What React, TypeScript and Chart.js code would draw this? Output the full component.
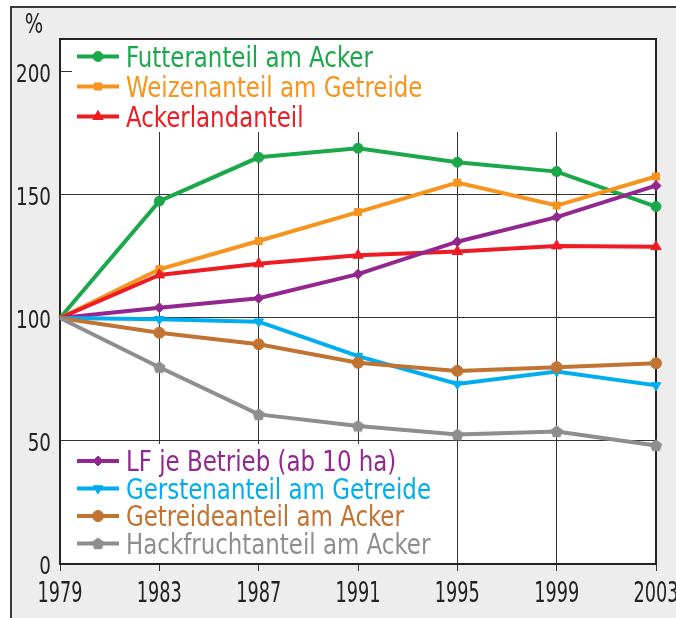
import React, { useEffect, useRef } from "react";
import { Chart, registerables } from "chart.js";
import { drawPoint } from "chart.js/helpers";

Chart.register(...registerables);

const years = ["1979", "1983", "1987", "1991", "1995", "1999", "2003"];
const futterValues = [100, 147.5, 165.3, 169, 163.3, 159.5, 145.3];
const weizenValues = [100, 119.8, 131.3, 143, 155, 145.7, 157.5];
const ackerlandValues = [100, 117.5, 122, 125.5, 127, 129.3, 129];
const lfValues = [100, 104.2, 108, 117.8, 131, 141, 153.8];
const gerstenValues = [100, 99.5, 98.5, 84.5, 73.2, 78.2, 72.6];
const getreideValues = [100, 94, 89.3, 81.8, 78.5, 80, 81.6];
const hackValues = [100, 80, 60.8, 56.1, 52.6, 53.9, 48.2];
const yTicks = [0, 50, 100, 150, 200];

const FONT = '"DejaVu Sans Condensed", "DejaVu Sans", sans-serif';

function makePentagon(color: string, r: number) {
  const c = document.createElement("canvas");
  const s = Math.ceil(r * 2 + 2);
  c.width = s;
  c.height = s;
  const g = c.getContext("2d")!;
  g.fillStyle = color;
  g.beginPath();
  const cx = s / 2, cy = s / 2 + 0.5;
  for (let i = 0; i < 5; i++) {
    const a = -Math.PI / 2 + (i * 2 * Math.PI) / 5;
    const px = cx + r * Math.cos(a);
    const py = cy + r * Math.sin(a);
    if (i === 0) g.moveTo(px, py); else g.lineTo(px, py);
  }
  g.closePath();
  g.fill();
  return c;
}

function squeezeText(ctx: CanvasRenderingContext2D, text: string, x: number, y: number, sx: number, align: "left" | "right" | "center", halo?: string) {
  ctx.save();
  ctx.translate(x, y);
  ctx.scale(sx, 1);
  ctx.textAlign = align;
  ctx.textBaseline = "alphabetic";
  if (halo) {
    ctx.lineJoin = "round";
    ctx.lineWidth = 4;
    ctx.strokeStyle = halo;
    ctx.strokeText(text, 0, 0);
  }
  ctx.fillText(text, 0, 0);
  ctx.restore();
}

export default function App() {
  const ref = useRef<HTMLCanvasElement | null>(null);

  useEffect(() => {
    const canvas = ref.current!;
    const pent = makePentagon("#8e8e90", 6.5);

    const mk = (label: string, data: number[], color: string, pointStyle: any, radius: number, rotation = 0) => ({
      label,
      data,
      borderColor: color,
      backgroundColor: color,
      pointBackgroundColor: color,
      pointBorderColor: color,
      borderWidth: 4,
      pointStyle,
      markerRadius: radius,
      pointRadius: (c: any) => (c.dataIndex === 0 ? 0 : radius),
      pointRotation: rotation,
      pointBorderWidth: 1,
      tension: 0,
    });

    const datasets: any[] = [
      mk("Hackfruchtanteil am Acker", hackValues, "#8e8e90", pent, 6),
      mk("Getreideanteil am Acker", getreideValues, "#c17332", "circle", 5.5),
      mk("Gerstenanteil am Getreide", gerstenValues, "#00adee", "triangle", 5.5, 180),
      mk("LF je Betrieb (ab 10 ha)", lfValues, "#93278f", "rectRot", 5),
      mk("Ackerlandanteil", ackerlandValues, "#ed1c24", "triangle", 6),
      mk("Weizenanteil am Getreide", weizenValues, "#f7941d", "rect", 5),
      mk("Futteranteil am Acker", futterValues, "#1ba84b", "circle", 5),
    ];

    const upperOrder = ["Futteranteil am Acker", "Weizenanteil am Getreide", "Ackerlandanteil"];
    const lowerOrder = ["LF je Betrieb (ab 10 ha)", "Gerstenanteil am Getreide", "Getreideanteil am Acker", "Hackfruchtanteil am Acker"];
    const upperY = [56.5, 86.5, 116.5];
    const lowerY = [461, 488.5, 516, 543.5];

    const bgPlugin = {
      id: "bg",
      beforeDraw(chart: any) {
        const ctx = chart.ctx;
        const { left, top, right, bottom } = chart.chartArea;
        ctx.save();
        ctx.fillStyle = "#ffffff";
        ctx.fillRect(0, 0, chart.width, chart.height);
        ctx.fillStyle = "#ededed";
        ctx.fillRect(11, 7, chart.width - 11, chart.height - 7);
        ctx.strokeStyle = "#3a3a3a";
        ctx.lineWidth = 2;
        ctx.beginPath();
        ctx.moveTo(11, chart.height);
        ctx.lineTo(11, 7);
        ctx.lineTo(chart.width, 7);
        ctx.stroke();
        ctx.fillStyle = "#ffffff";
        ctx.fillRect(left, top, right - left, bottom - top);
        ctx.restore();
      },
      beforeDatasetsDraw(chart: any) {
        const ctx = chart.ctx;
        const { left, top, right, bottom } = chart.chartArea;
        ctx.save();
        ctx.fillStyle = "#ffffff";
        ctx.fillRect(72, top, right - 72, 132 - top);
        ctx.fillRect(left + 2, 444, 445 - left - 2, bottom - 1 - 444);
        ctx.strokeStyle = "#222";
        ctx.lineWidth = 2;
        ctx.beginPath();
        ctx.moveTo(left, top);
        ctx.lineTo(right, top);
        ctx.lineTo(right, bottom);
        ctx.stroke();
        ctx.restore();
      },
      afterDraw(chart: any) {
        const ctx = chart.ctx;
        ctx.save();

        // "%" unit label
        ctx.fillStyle = "#222";
        ctx.font = `27px ${FONT}`;
        squeezeText(ctx, "%", 34, 33, 0.8, "center");

        // x tick labels
        const xs = chart.scales.x;
        ctx.font = `29px ${FONT}`;
        const sxX = 45 / ctx.measureText("1999").width;
        xs.ticks.forEach((t: any, i: number) => {
          const px = xs.getPixelForTick(i);
          squeezeText(ctx, String(xs.getLabelForValue(t.value)), px, 602, sxX, "center");
        });

        // y tick labels
        const ys = chart.scales.y;
        ctx.font = `25px ${FONT}`;
        const sxY = 35 / ctx.measureText("200").width;
        ys.ticks.forEach((t: any) => {
          const py = ys.getPixelForValue(t.value);
          squeezeText(ctx, String(t.value), 51, py + 10, sxY, "right");
        });

        // legends
        ctx.font = `28px ${FONT}`;
        const sxL = 305 / ctx.measureText("Gerstenanteil am Getreide").width;
        const drawEntry = (label: string, y: number) => {
          const ds: any = chart.data.datasets.find((d: any) => d.label === label);
          const color = ds.borderColor;
          ctx.strokeStyle = color;
          ctx.lineWidth = 4;
          ctx.beginPath();
          ctx.moveTo(77, y);
          ctx.lineTo(119, y);
          ctx.stroke();
          ctx.fillStyle = color;
          ctx.strokeStyle = color;
          ctx.lineWidth = 1;
          drawPoint(ctx, { pointStyle: ds.pointStyle, rotation: ds.pointRotation, radius: ds.markerRadius, borderWidth: 1 } as any, 98, y);
          ctx.font = `28px ${FONT}`;
          ctx.fillStyle = color;
          squeezeText(ctx, label, 126, y + 10, sxL, "left", "#ffffff");
        };
        upperOrder.forEach((l, i) => drawEntry(l, upperY[i]));
        lowerOrder.forEach((l, i) => drawEntry(l, lowerY[i]));
        ctx.restore();
      },
    };

    const chart = new Chart(canvas, {
      type: "line",
      data: { labels: years, datasets },
      options: {
        responsive: false,
        animation: false,
        devicePixelRatio: 1,
        layout: { padding: { top: 39, right: 20, left: 0, bottom: 0 } },
        plugins: { legend: { display: false }, tooltip: { enabled: false } },
        scales: {
          x: {
            type: "category",
            offset: false,
            grid: { color: "#333", lineWidth: 1, drawTicks: true, tickLength: 7, tickColor: "#333" },
            border: { display: true, color: "#222", width: 2 },
            ticks: {
              color: "rgba(0,0,0,0)",
              font: { family: FONT, size: 27 },
              padding: 3,
              maxRotation: 0,
              autoSkip: false,
            },
            afterFit(scale: any) {
              scale.height = 54;
              scale.paddingLeft = 0;
              scale.paddingRight = 0;
            },
          },
          y: {
            min: 0,
            max: 213.4,
            grid: { color: "#333", lineWidth: 1, drawTicks: false },
            border: { display: true, color: "#222", width: 2 },
            ticks: {
              color: "rgba(0,0,0,0)",
              font: { family: FONT, size: 25 },
              padding: 9,
            },
            afterBuildTicks(scale: any) {
              scale.ticks = yTicks.map((v) => ({ value: v }));
            },
            afterFit(scale: any) {
              scale.width = 60;
              scale.paddingTop = 0;
              scale.paddingBottom = 0;
            },
          },
        },
      },
      plugins: [bgPlugin],
    } as any);

    return () => chart.destroy();
  }, []);

  return (
    <div style={{ position: "fixed", left: 0, top: 0, width: 676, height: 618 }}>
      <canvas ref={ref} width={676} height={618} style={{ width: 676, height: 618, display: "block" }} />
    </div>
  );
}
